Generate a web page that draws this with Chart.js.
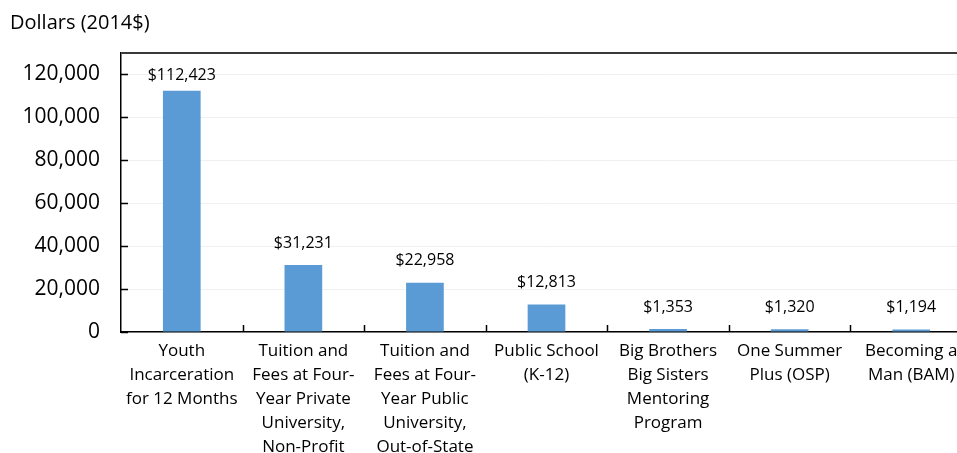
<!DOCTYPE html>
<html>
<head>
<meta charset="utf-8">
<script src="https://cdn.jsdelivr.net/npm/chart.js@4/dist/chart.umd.min.js"></script>
<style>
  html, body { margin: 0; padding: 0; background: #fff; overflow: hidden; }
  #wrap { width: 972px; height: 453px; }
</style>
</head>
<body>
<div id="wrap"><canvas id="cost"></canvas></div>
<script>
// categories (one array per label line) and annual cost values
var categories = [
  ['Youth', 'Incarceration', 'for 12 Months'],
  ['Tuition and', 'Fees at Four-', 'Year Private', 'University,', 'Non-Profit'],
  ['Tuition and', 'Fees at Four-', 'Year Public', 'University,', 'Out-of-State'],
  ['Public School', '(K-12)'],
  ['Big Brothers', 'Big Sisters', 'Mentoring', 'Program'],
  ['One Summer', 'Plus (OSP)'],
  ['Becoming a', 'Man (BAM)']
];
var costs = [112423, 31231, 22958, 12813, 1353, 1320, 1194];
var yTicks = [0, 20000, 40000, 60000, 80000, 100000, 120000];
var yMax = 130000;

var FONT = "'Open Sans', sans-serif";

// value labels above each bar
var valueLabels = {
  id: 'valueLabels',
  afterDatasetsDraw: function(chart){
    var ctx = chart.ctx;
    var meta = chart.getDatasetMeta(0);
    ctx.save();
    ctx.font = '16px ' + FONT;
    ctx.fillStyle = '#000';
    ctx.textAlign = 'center';
    ctx.textBaseline = 'middle';
    meta.data.forEach(function(bar, i){
      var y = Math.max(bar.y - 22, chart.chartArea.top + 22);
      ctx.fillText('$' + costs[i].toLocaleString('en-US'), bar.x, y);
    });
    ctx.restore();
  }
};

// small inward tick marks like the original
var axisMarks = {
  id: 'axisMarks',
  afterDraw: function(chart){
    var ctx = chart.ctx, a = chart.chartArea;
    var x = chart.scales.x, y = chart.scales.y;
    ctx.save();
    ctx.strokeStyle = '#000';
    ctx.lineWidth = 1.5;
    ctx.beginPath();
    yTicks.forEach(function(v){
      var py = Math.round(y.getPixelForValue(v)) + 0.5;
      ctx.moveTo(a.left, py);
      ctx.lineTo(a.left + 7, py);
    });
    for(var i = 1; i < categories.length; i++){
      var px = Math.round((x.getPixelForValue(i - 1) + x.getPixelForValue(i)) / 2) + 0.5;
      ctx.moveTo(px, a.bottom);
      ctx.lineTo(px, a.bottom - 7);
    }
    ctx.stroke();
    ctx.restore();
  }
};

new Chart(document.getElementById('cost'), {
  type: 'bar',
  data: {
    labels: categories,
    datasets: [
      {
        label: 'Dollars (2014$)',
        data: costs,
        backgroundColor: '#5B9BD5',
        barPercentage: 0.31,
        categoryPercentage: 1
      }
    ]
  },
  options: {
    responsive: true,
    maintainAspectRatio: false,
    animation: false,
    layout: { padding: { left: 10, right: 0, top: 0, bottom: 0 } },
    plugins: {
      legend: { display: false },
      tooltip: { enabled: false },
      title: {
        display: true,
        text: 'Dollars (2014$)',
        align: 'start',
        color: '#000',
        font: { family: FONT, size: 20, weight: 'normal' },
        padding: { top: 11, bottom: 18 }
      }
    },
    scales: {
      x: {
        grid: { display: false },
        border: { color: '#000', width: 1.5 },
        ticks: {
          color: '#000',
          font: { family: FONT, size: 17, lineHeight: 1.41 },
          maxRotation: 0,
          autoSkip: false,
          padding: -1
        },
        afterFit: function(scale){ scale.height = 121; }
      },
      y: {
        min: 0,
        max: yMax,
        border: { color: '#000', width: 1.5 },
        grid: {
          drawTicks: false,
          color: function(c){ return c.tick && c.tick.value === yMax ? '#3a3a3a' : '#f0f0f0'; },
          lineWidth: function(c){ return c.tick && c.tick.value === yMax ? 2 : 1; }
        },
        afterBuildTicks: function(scale){
          scale.ticks = yTicks.concat([yMax]).map(function(v){ return { value: v }; });
        },
        ticks: {
          color: '#000',
          font: { family: FONT, size: 21 },
          padding: 21,
          callback: function(v){ return v === yMax ? '' : v.toLocaleString('en-US'); }
        },
        afterFit: function(scale){ scale.width = 111; }
      }
    }
  },
  plugins: [valueLabels, axisMarks]
});
</script>
</body>
</html>
